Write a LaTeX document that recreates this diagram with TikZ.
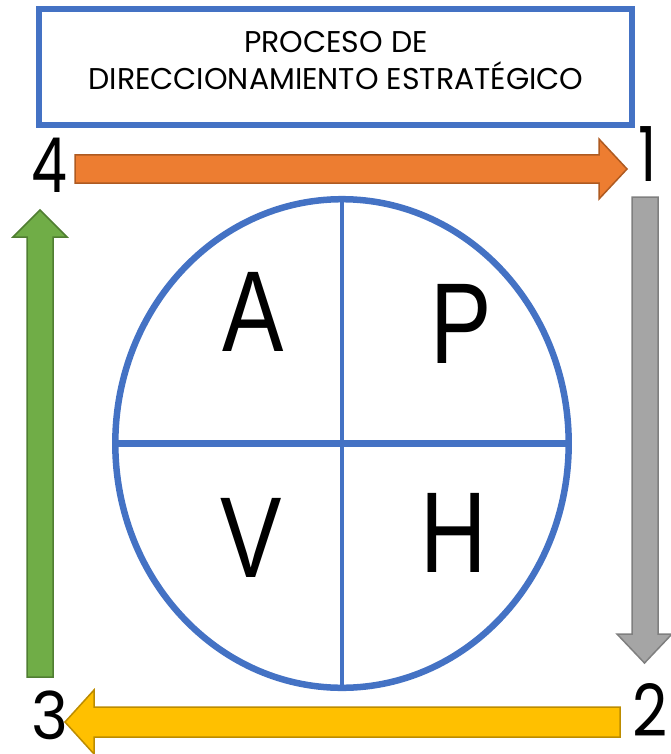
\documentclass[tikz,border=0pt]{standalone}
\usepackage{fontspec}
\setmainfont{Liberation Sans}
\newfontfamily\geo{Poppins}
\usetikzlibrary{shapes.geometric}
\definecolor{oblue}{HTML}{4472C4}
\definecolor{oorange}{HTML}{ED7D31}
\definecolor{oorangeD}{HTML}{AE5A21}
\definecolor{ogray}{HTML}{A5A5A5}
\definecolor{ograyD}{HTML}{7F7F7F}
\definecolor{oyellow}{HTML}{FFC000}
\definecolor{oyellowD}{HTML}{BC8C00}
\definecolor{ogreen}{HTML}{70AD47}
\definecolor{ogreenD}{HTML}{507E32}
\newcommand{\narrowq}[1]{\scalebox{0.8}[1]{#1}}
\newcommand{\narrown}[2][0.75]{\scalebox{#1}[1]{#2}}
\tikzset{
  titletext/.style={anchor=base, inner sep=0pt, font=\geo\fontsize{30}{36}\selectfont},
  numtext/.style={anchor=base, inner sep=0pt, font=\geo\fontsize{76}{80}\selectfont},
  quadtext/.style={anchor=base, inner sep=0pt, font=\fontsize{115}{120}\selectfont},
  blockarrow/.style={line width=1.5pt, line join=miter},
}
\begin{document}
\begin{tikzpicture}[x=1pt,y=-1pt]
\useasboundingbox (0,0) rectangle (671,754);
% title box
\node[draw=oblue, line width=6pt, rectangle, minimum width=593pt, minimum height=116pt, inner sep=0pt] (title) at (335.5,67) {};
\node[titletext] (t1) at (336,53) {PROCESO DE};
\node[titletext] (t2) at (336,90) {DIRECCIONAMIENTO ESTRATÉGICO};
% circle
\node[draw=oblue, line width=6.5pt, ellipse, minimum width=453.4pt, minimum height=488.6pt, inner sep=0pt] (circ) at (342,443.5) {};
\draw[oblue, line width=3.5pt] (circ.north) -- (circ.south);
\draw[oblue, line width=7pt] (circ.west) -- (circ.east);
% quadrant letters
\node[quadtext] (qa) at (253.5,351) {\narrowq{A}};
\node[quadtext] (qp) at (461,363) {\narrowq{P}};
\node[quadtext] (qv) at (251,577) {\narrowq{V}};
\node[quadtext] (qh) at (453.5,572) {\narrowq{H}};
% arrows
\draw[blockarrow, fill=oorange, draw=oorangeD]
  (75,155) -- (599,155) -- (599,139) -- (627,169) -- (599,199) -- (599,183) -- (75,183) -- cycle;
\draw[blockarrow, fill=ogray, draw=ograyD]
  (632,197) -- (658,197) -- (658,634) -- (672,634) -- (644.5,663) -- (617,634) -- (632,634) -- cycle;
\draw[blockarrow, fill=oyellow, draw=oyellowD]
  (620,707) -- (94,707) -- (94,690) -- (65,722) -- (94,754) -- (94,737) -- (620,737) -- cycle;
\draw[blockarrow, fill=ogreen, draw=ogreenD]
  (27,677) -- (27,237) -- (13,237) -- (40,210) -- (67,237) -- (53,237) -- (53,677) -- cycle;
% numbers
\node[numtext] (n4) at (49,193) {\narrown{4}};
\node[numtext] (n1) at (648,182) {\narrown{1}};
\node[numtext, font=\geo\fontsize{72}{76}\selectfont] (n2) at (650,736) {\narrown[0.85]{2}};
\node[numtext, font=\geo\fontsize{66}{70}\selectfont] (n3) at (49.5,739) {\narrown[0.95]{3}};
\end{tikzpicture}
\end{document}
